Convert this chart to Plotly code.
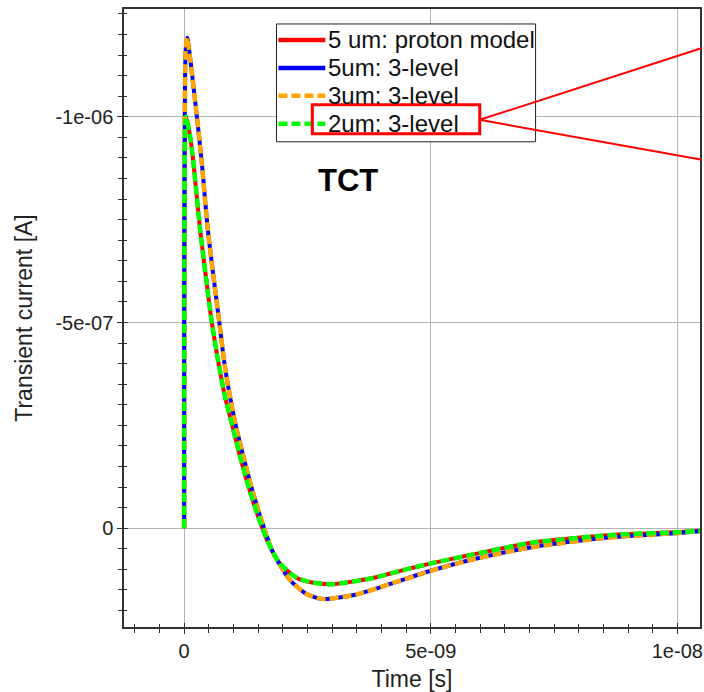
import plotly.graph_objects as go

# ---- data (time in s, current in A) ----
# group A: thicker-sensor 3-level curves (higher peak, deeper undershoot)
t_a = [0.0, 0.03e-9, 0.06e-9, 0.236e-9, 0.358e-9, 0.479e-9, 0.646e-9, 0.713e-9, 0.814e-9,
       0.929e-9, 1.065e-9, 1.232e-9, 1.40e-9, 1.58e-9, 1.804e-9, 2.141e-9, 2.479e-9,
       2.808e-9, 3.489e-9, 4.162e-9, 4.984e-9, 5.844e-9, 7.05e-9, 8.4e-9, 9.0e-9, 9.96e-9,
       10.46e-9]
i_a = [0.0, -1.16e-6, -1.192e-6, -1.024e-6, -0.888e-6, -0.726e-6, -0.563e-6, -0.500e-6,
       -0.403e-6, -0.320e-6, -0.240e-6, -0.160e-6, -0.085e-6, -0.015e-6, 0.060e-6, 0.125e-6,
       0.160e-6, 0.172e-6, 0.161e-6, 0.136e-6, 0.104e-6, 0.076e-6, 0.046e-6, 0.025e-6,
       0.019e-6, 0.012e-6, 0.007e-6]

# group B: proton model / 2um curves (lower peak, shallower undershoot)
t_b = [0.0, 0.02e-9, 0.04e-9, 0.121e-9, 0.188e-9, 0.323e-9, 0.491e-9, 0.560e-9, 0.693e-9,
       0.828e-9, 0.996e-9, 1.166e-9, 1.333e-9, 1.495e-9, 1.703e-9, 1.939e-9, 2.277e-9,
       2.6e-9, 3.01e-9, 3.824e-9, 4.499e-9, 4.984e-9, 5.844e-9, 7.05e-9, 8.4e-9, 9.0e-9,
       9.96e-9, 10.46e-9]
i_b = [0.0, -0.97e-6, -1.0e-6, -0.952e-6, -0.888e-6, -0.726e-6, -0.563e-6, -0.500e-6,
       -0.403e-6, -0.320e-6, -0.240e-6, -0.160e-6, -0.090e-6, -0.030e-6, 0.035e-6, 0.085e-6,
       0.120e-6, 0.132e-6, 0.136e-6, 0.121e-6, 0.100e-6, 0.086e-6, 0.064e-6, 0.035e-6,
       0.019e-6, 0.014e-6, 0.010e-6, 0.006e-6]

series_names = ["5 um: proton model", "5um: 3-level", "3um: 3-level", "2um: 3-level"]
series_colors = ["#ff0000", "#0000ff", "#ffa500", "#00ff00"]
series_dash = ["solid", "solid", "9px,4px", "9px,4px"]

x_tickvals = [0, 5e-9, 1e-8]
x_ticktext = ["0", "5e-09", "1e-08"]
y_tickvals = [-1e-6, -5e-7, 0]
y_ticktext = ["-1e-06", "-5e-07", "0"]

FONT = "Liberation Sans, Arial, sans-serif"

fig = go.Figure()
data_sets = [(t_b, i_b), (t_a, i_a), (t_a, i_a), (t_b, i_b)]
widths = [4, 4, 4.5, 4.5]
for (tx, iy), name, col, d, w in zip(data_sets, series_names, series_colors, series_dash, widths):
    fig.add_trace(go.Scatter(x=tx, y=iy, mode="lines", name=name, showlegend=False,
                             line=dict(color=col, width=w, dash=d, shape="spline", smoothing=0.6)))

# dummy trace for overlay axes (inside tick halves)
fig.add_trace(go.Scatter(x=[None], y=[None], xaxis="x2", yaxis="y2",
                         showlegend=False, hoverinfo="skip"))

xr = [-1.22e-9, 10.46e-9]
yr = [2.40e-7, -1.262e-6]

common_ax = dict(tickfont=dict(size=20, color="#222", family=FONT),
                 linecolor="#333", linewidth=1.5, tickcolor="#333", ticklen=5, tickwidth=1.3)

fig.update_layout(
    width=704, height=692,
    margin=dict(l=124, r=2, t=9, b=64),
    paper_bgcolor="white", plot_bgcolor="white",
    font=dict(family=FONT, color="#222"),
    showlegend=False,
    xaxis=dict(range=xr, tickmode="array", tickvals=x_tickvals, ticktext=x_ticktext,
               ticks="outside", showline=True, mirror=True, showgrid=True,
               gridcolor="#b4b4b4", gridwidth=1, zeroline=False,
               minor=dict(tickmode="linear", tick0=0, dtick=5e-10, ticks="outside",
                          ticklen=4, tickcolor="#333", showgrid=False),
               title=dict(text="Time [s]", font=dict(size=23, family=FONT, color="#222"), standoff=12),
               **common_ax),
    yaxis=dict(range=yr, tickmode="array", tickvals=y_tickvals, ticktext=y_ticktext,
               ticks="outside", showline=True, mirror=True, showgrid=True,
               gridcolor="#b4b4b4", gridwidth=1, zeroline=False,
               minor=dict(tickmode="linear", tick0=0, dtick=5e-8, ticks="outside",
                          ticklen=4, tickcolor="#333", showgrid=False),
               title=dict(text="Transient current [A]", font=dict(size=23, family=FONT, color="#222"), standoff=16),
               **common_ax),
    xaxis2=dict(overlaying="x", matches="x", anchor="y2", side="bottom", range=xr,
                tickmode="array", tickvals=x_tickvals, ticks="inside", ticklen=4,
                tickcolor="#333", tickwidth=1.3, showticklabels=False, showgrid=False,
                showline=False, zeroline=False,
                minor=dict(tickmode="linear", tick0=0, dtick=5e-10, ticks="inside",
                           ticklen=3, tickcolor="#333", showgrid=False)),
    yaxis2=dict(overlaying="y", matches="y", anchor="x2", side="left", range=yr,
                tickmode="array", tickvals=y_tickvals, ticks="inside", ticklen=4,
                tickcolor="#333", tickwidth=1.3, showticklabels=False, showgrid=False,
                showline=False, zeroline=False,
                minor=dict(tickmode="linear", tick0=0, dtick=5e-8, ticks="inside",
                           ticklen=3, tickcolor="#333", showgrid=False)),
)

# ---- legend box drawn by hand (pixel -> paper conversion) ----
L, T, W, H = 124.0, 9.0, 578.0, 619.0
def px(x):
    return (x - L) / W
def py(y):
    return 1 - (y - T) / H

fig.add_shape(type="rect", xref="paper", yref="paper", layer="above",
              x0=px(277), x1=px(537), y0=py(142), y1=py(24),
              fillcolor="white", line=dict(color="#222", width=1))
row_y = [40, 68, 96, 124]
for name, col, d, ry in zip(series_names, series_colors, series_dash, row_y):
    fig.add_shape(type="line", xref="paper", yref="paper", layer="above",
                  x0=px(279), x1=px(326), y0=py(ry), y1=py(ry),
                  line=dict(color=col, width=4.5, dash=d))
    fig.add_annotation(text=name, x=px(327), y=py(ry), xref="paper", yref="paper",
                       xanchor="left", yanchor="middle", showarrow=False,
                       font=dict(size=24, family=FONT, color="#111"))

fig.add_annotation(text="<b>TCT</b>", x=px(349), y=py(181), xref="paper", yref="paper",
                   xanchor="center", yanchor="middle",
                   showarrow=False, font=dict(size=31, family=FONT, color="black"))

# highlight rectangle and zoom lines
fig.add_shape(type="rect", xref="paper", yref="paper", layer="above",
              x0=px(313), x1=px(481), y0=py(134), y1=py(105),
              line=dict(color="#ff0000", width=3))
fig.add_shape(type="line", xref="paper", yref="paper", layer="above",
              x0=px(481), y0=py(120), x1=px(704), y1=py(48),
              line=dict(color="#ff0000", width=2))
fig.add_shape(type="line", xref="paper", yref="paper", layer="above",
              x0=px(481), y0=py(120), x1=px(704), y1=py(160),
              line=dict(color="#ff0000", width=2))

fig.write_html("out.html")
